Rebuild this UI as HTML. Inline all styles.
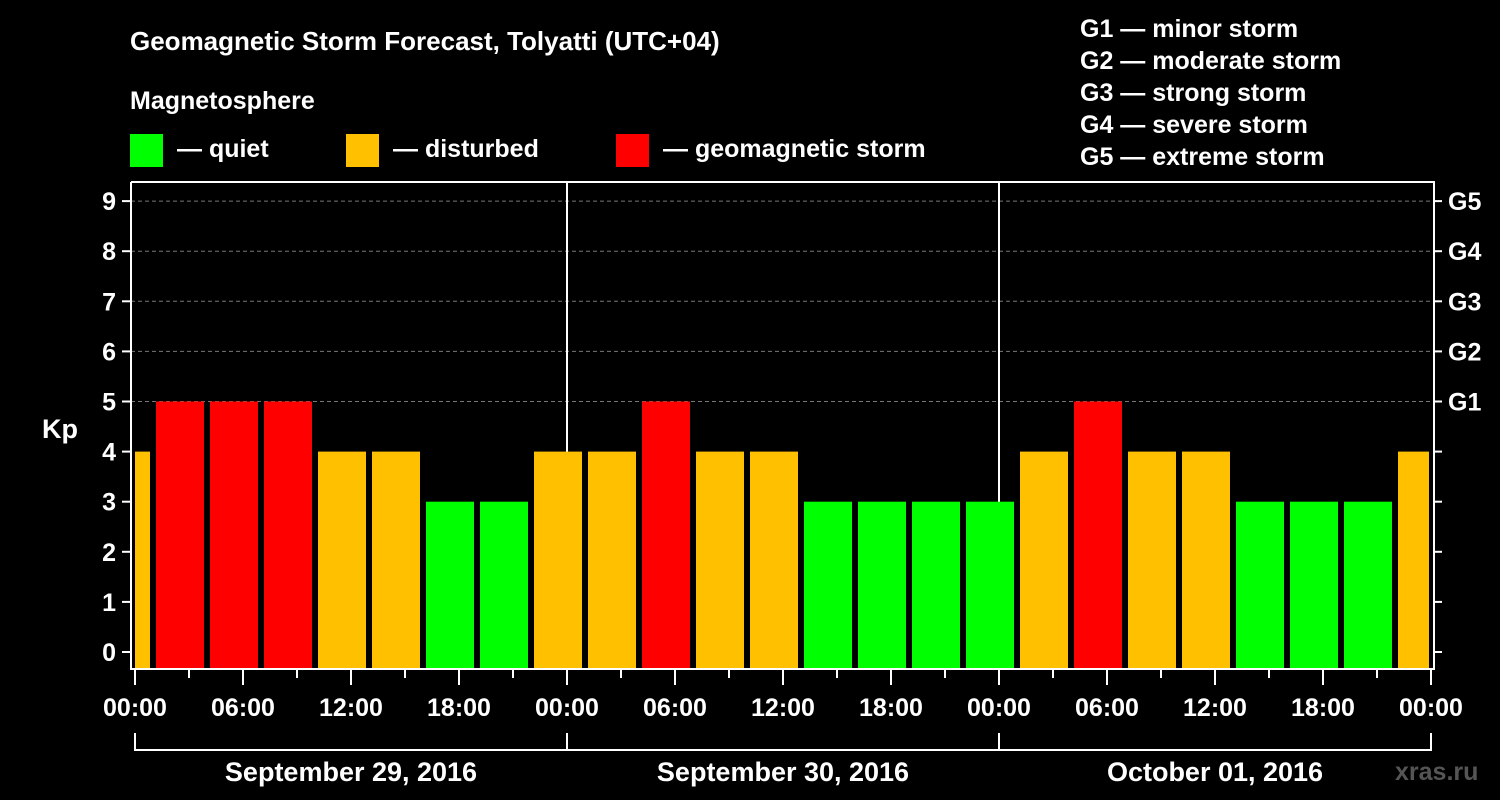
<!DOCTYPE html>
<html><head><meta charset="utf-8"><style>
html,body{margin:0;padding:0;background:#000;width:1500px;height:800px;overflow:hidden}
svg text{font-family:"Liberation Sans",Arial,sans-serif;font-weight:bold;fill:#fff}
</style></head><body>
<svg id="chart" width="1500" height="800" xmlns="http://www.w3.org/2000/svg">
<text x="130" y="50" font-size="26">Geomagnetic Storm Forecast, Tolyatti (UTC+04)</text>
<text x="130" y="109" font-size="25">Magnetosphere</text>
<g>
<rect x="130" y="134" width="33" height="33" fill="#00ff00"/>
<text x="177" y="157" font-size="25">— quiet</text>
<rect x="346" y="134" width="33" height="33" fill="#ffc000"/>
<text x="393" y="157" font-size="25">— disturbed</text>
<rect x="616" y="134" width="33" height="33" fill="#ff0000"/>
<text x="663" y="157" font-size="25">— geomagnetic storm</text>
</g>
<g font-size="25">
<text x="1080" y="37">G1 — minor storm</text>
<text x="1080" y="69">G2 — moderate storm</text>
<text x="1080" y="101">G3 — strong storm</text>
<text x="1080" y="133">G4 — severe storm</text>
<text x="1080" y="165">G5 — extreme storm</text>
</g>
<g id="grid"></g><g id="bars"></g><g id="axes"></g>
<text x="42" y="438" font-size="27">Kp</text>
<text x="1395" y="780" font-size="25" fill="#555" style="fill:#555">xras.ru</text>
</svg>
<script>
const kpValues=[4,5,5,5,4,4,3,3,4,4,5,4,4,3,3,3,3,4,5,4,4,3,3,3,4];
const yTicks=[0,1,2,3,4,5,6,7,8,9];
const gLabels=["G1","G2","G3","G4","G5"];
const xTickLabels=["00:00","06:00","12:00","18:00","00:00","06:00","12:00","18:00","00:00","06:00","12:00","18:00","00:00"];
const dayLabels=["September 29, 2016","September 30, 2016","October 01, 2016"];
const NS="http://www.w3.org/2000/svg";
const L=131,R=1434,T=182,B=669,X0=135,PXH=18;
const y=v=>652-v*50.1, x=h=>X0+h*PXH;
function mk(p,tag,a){const e=document.createElementNS(NS,tag);for(const k in a)e.setAttribute(k,a[k]);p.appendChild(e);return e;}
const grid=document.getElementById('grid'),bars=document.getElementById('bars'),axes=document.getElementById('axes');
yTicks.forEach(v=>{if(v>=5){const l=mk(grid,'line',{x1:L,x2:R,y1:y(v),y2:y(v),stroke:'#777','stroke-dasharray':'4,3','stroke-width':1});
}});
[1,2].forEach(d=>{const l=mk(grid,'line',{x1:x(d*24),x2:x(d*24),y1:T,y2:B,stroke:'#fff','stroke-width':2});
});
kpValues.forEach((v,i)=>{const h0=1+3*(i-1);let a=x(h0)+3,b=x(h0+3)-3;a=Math.max(a,X0);b=Math.min(b,R-5);
const c=v>=5?'#ff0000':v>=4?'#ffc000':'#00ff00';
const r=mk(bars,'rect',{x:a,y:y(v),width:b-a,height:B-y(v),fill:c});
});
const ax=mk(axes,'path',{d:`M${L},${T}V${B}H${R}V${T}H${L}`,fill:'none',stroke:'#fff','stroke-width':2});

yTicks.forEach(v=>{mk(axes,'line',{x1:122,x2:L,y1:y(v),y2:y(v),stroke:'#fff','stroke-width':2});
mk(axes,'line',{x1:R,x2:R+8,y1:y(v),y2:y(v),stroke:'#fff','stroke-width':2});
const t=mk(axes,'text',{x:116,y:y(v)+9,'font-size':25,'text-anchor':'end'});t.textContent=v;
});
gLabels.forEach((g,i)=>{const t=mk(axes,'text',{x:1448,y:y(5+i)+9,'font-size':25});t.textContent=g;
});
for(let h=0;h<=72;h+=3){const major=h%6===0;mk(axes,'line',{x1:x(h),x2:x(h),y1:B,y2:major?685:678,stroke:'#fff','stroke-width':2});}
xTickLabels.forEach((s,i)=>{const t=mk(axes,'text',{x:x(i*6),y:716,'font-size':25,'text-anchor':'middle'});t.textContent=s;
});
mk(axes,'path',{d:`M${x(0)},733V750H${x(72)}V733M${x(24)},733V750M${x(48)},733V750`,fill:'none',stroke:'#fff','stroke-width':2});
dayLabels.forEach((s,i)=>{const t=mk(axes,'text',{x:x(i*24+12),y:781,'font-size':27,'text-anchor':'middle'});t.textContent=s;
});
</script>
</body></html>
